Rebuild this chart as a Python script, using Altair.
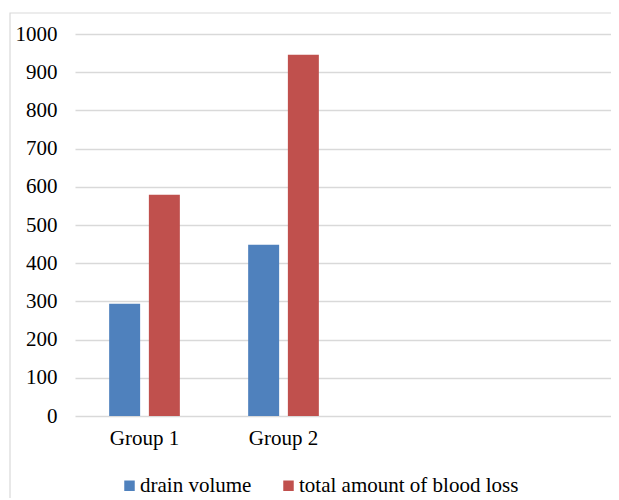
import altair as alt
import pandas as pd

categories = ["Group 1", "Group 2"]
series = ["drain volume", "total amount of blood loss"]
drain_volume = [294, 448]
blood_loss = [579, 946]
y_ticks = [0, 100, 200, 300, 400, 500, 600, 700, 800, 900, 1000]
colors = ["#4f81bd", "#c0504d"]

rows = []
for i, c in enumerate(categories):
    rows.append({"group": c, "series": series[0], "value": drain_volume[i]})
    rows.append({"group": c, "series": series[1], "value": blood_loss[i]})
df = pd.DataFrame(rows)

W = 536
H = 382
FONT = "Liberation Serif"

bars = alt.Chart(df).mark_bar().encode(
    x=alt.X(
        "group:N",
        sort=categories,
        scale=alt.Scale(domain=categories, paddingInner=0, paddingOuter=0.928, align=0),
        axis=alt.Axis(title=None, labelAngle=0, ticks=False, domain=False,
                      labelFont=FONT, labelFontSize=21, labelColor="black",
                      labelBaseline="middle", labelPadding=22),
    ),
    xOffset=alt.XOffset(
        "series:N", sort=series,
        scale=alt.Scale(domain=series, paddingInner=0.22, paddingOuter=0.86),
    ),
    y=alt.Y(
        "value:Q",
        scale=alt.Scale(domain=[0, 1000]),
        axis=alt.Axis(values=y_ticks, format="d", title=None, ticks=False, domain=False,
                      gridColor="#d9d9d9", gridWidth=1.3,
                      labelFont=FONT, labelFontSize=21, labelColor="black",
                      labelPadding=18),
    ),
    color=alt.Color(
        "series:N", sort=series,
        scale=alt.Scale(domain=series, range=colors),
        legend=alt.Legend(orient="none", legendX=44, legendY=441, direction="horizontal",
                          title=None, symbolType="square", symbolSize=110,
                          symbolStrokeWidth=0, labelFont=FONT, labelFontSize=21,
                          labelColor="black", columnPadding=26, labelOffset=0,
                          labelLimit=0, padding=0),
    ),
)

frame = alt.Chart(pd.DataFrame({"a": [0]})).mark_rect(
    fillOpacity=0, stroke="#d9d9d9", strokeWidth=1.2
).encode(
    x=alt.value(-65), x2=alt.value(W + 40), y=alt.value(-21), y2=alt.value(H + 140)
)

chart = alt.layer(frame, bars).properties(
    width=W,
    height=H,
    autosize=alt.AutoSizeParams(type="none"),
    padding={"left": 67, "top": 26, "right": 0, "bottom": 82},
).configure_view(strokeOpacity=0)

chart.save("out.html", embed_options={"renderer": "svg", "actions": False})
